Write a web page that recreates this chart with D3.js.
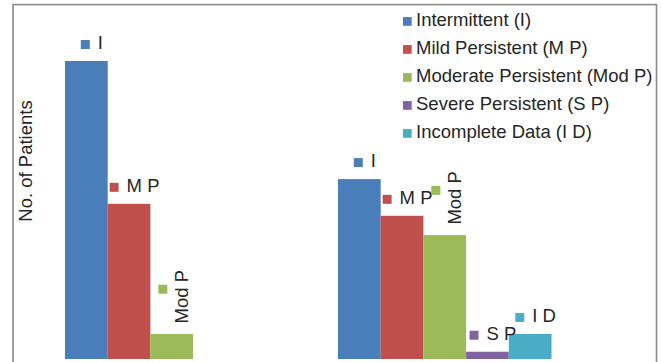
<!DOCTYPE html>
<html>
<head>
<meta charset="utf-8">
<script src="https://cdn.jsdelivr.net/npm/d3@7"></script>
<style>
  html, body { margin: 0; padding: 0; background: #fff; }
  svg { display: block; font-family: "Liberation Sans", Arial, sans-serif; }
</style>
</head>
<body>
<svg id="chart" width="662" height="362"></svg>
<script>
// ---- data ----
const categories = ["Group 1", "Group 2"];
const seriesNames = ["Intermittent (I)", "Mild Persistent (M P)", "Moderate Persistent (Mod P)", "Severe Persistent (S P)", "Incomplete Data (I D)"];
const seriesShort = ["I", "M P", "Mod P", "S P", "I D"];
const intermittent = [82, 49.5];
const mildPersistent = [42.7, 39.4];
const moderatePersistent = [6.9, 34.1];
const severePersistent = [null, 2];
const incompleteData = [null, 6.9];
const yAxisTitle = "No. of Patients";

const seriesValues = [intermittent, mildPersistent, moderatePersistent, severePersistent, incompleteData];
const colors = ["#4a7ebb", "#c0504d", "#9bbb59", "#8064a2", "#4bacc6"];

// ---- layout ----
const svg = d3.select("#chart");
const baseY = 359;
const fontSize = 18.5;
const textColor = "#262626";

const x0 = d3.scaleBand().domain(categories).range([35.25, 581.25]).paddingInner(0.218).paddingOuter(0.109);
const x1 = d3.scaleBand().domain(seriesNames).range([0, x0.bandwidth()]).padding(0);
const y = d3.scaleLinear().domain([0, 90]).range([baseY, baseY - 90 * (298 / 82)]);
const color = d3.scaleOrdinal().domain(seriesNames).range(colors);

// frame
svg.append("rect")
  .attr("x", 13).attr("y", 4.6).attr("width", 643.5).attr("height", 420)
  .attr("fill", "none").attr("stroke", "#8a8a8a").attr("stroke-width", 1.6);

// flatten data
const data = [];
categories.forEach((c, ci) => {
  seriesNames.forEach((s, si) => {
    const v = seriesValues[si][ci];
    if (v != null) data.push({ cat: c, series: s, si, value: v });
  });
});

// bars
svg.append("g").selectAll("rect").data(data).join("rect")
  .attr("x", d => x0(d.cat) + x1(d.series))
  .attr("y", d => y(d.value))
  .attr("width", x1.bandwidth())
  .attr("height", d => y(0) - y(d.value))
  .attr("fill", d => color(d.series));

// data labels
const keySize = 9;
const labels = svg.append("g").attr("font-size", fontSize).attr("fill", textColor);
data.forEach(d => {
  const cx = x0(d.cat) + x1(d.series) + x1.bandwidth() / 2;
  const top = y(d.value);
  const txt = seriesShort[d.si];
  const rotated = txt.length > 3;
  const g = labels.append("g");
  if (rotated) {
    g.append("rect")
      .attr("x", cx - 13.4).attr("y", top - 49.2)
      .attr("width", keySize).attr("height", keySize)
      .attr("fill", color(d.series));
    g.append("text")
      .attr("transform", `translate(${cx + 16.5},${top - 10.5}) rotate(-90)`)
      .attr("text-anchor", "start")
      .text(txt);
  } else {
    const t = g.append("text").attr("y", top - 11.7).text(txt);
    const tw = t.node().getComputedTextLength();
    const total = keySize + 8 + tw;
    const left = cx - total / 2 + 5.5;
    g.append("rect")
      .attr("x", left).attr("y", top - 12 - keySize)
      .attr("width", keySize).attr("height", keySize)
      .attr("fill", color(d.series));
    t.attr("x", left + keySize + 8);
  }
});

// y axis title
svg.append("text")
  .attr("transform", "translate(32.3,161) rotate(-90)")
  .attr("text-anchor", "middle")
  .attr("font-size", fontSize)
  .attr("fill", textColor)
  .text(yAxisTitle);

// legend
const legend = svg.append("g").attr("font-size", fontSize).attr("fill", textColor);
seriesNames.forEach((s, i) => {
  const by = 25.7 + i * 28;
  legend.append("rect")
    .attr("x", 403).attr("y", by - 8.6)
    .attr("width", 8.7).attr("height", 8.7)
    .attr("fill", color(s));
  legend.append("text")
    .attr("x", 416).attr("y", by)
    .text(s);
});
</script>
</body>
</html>
